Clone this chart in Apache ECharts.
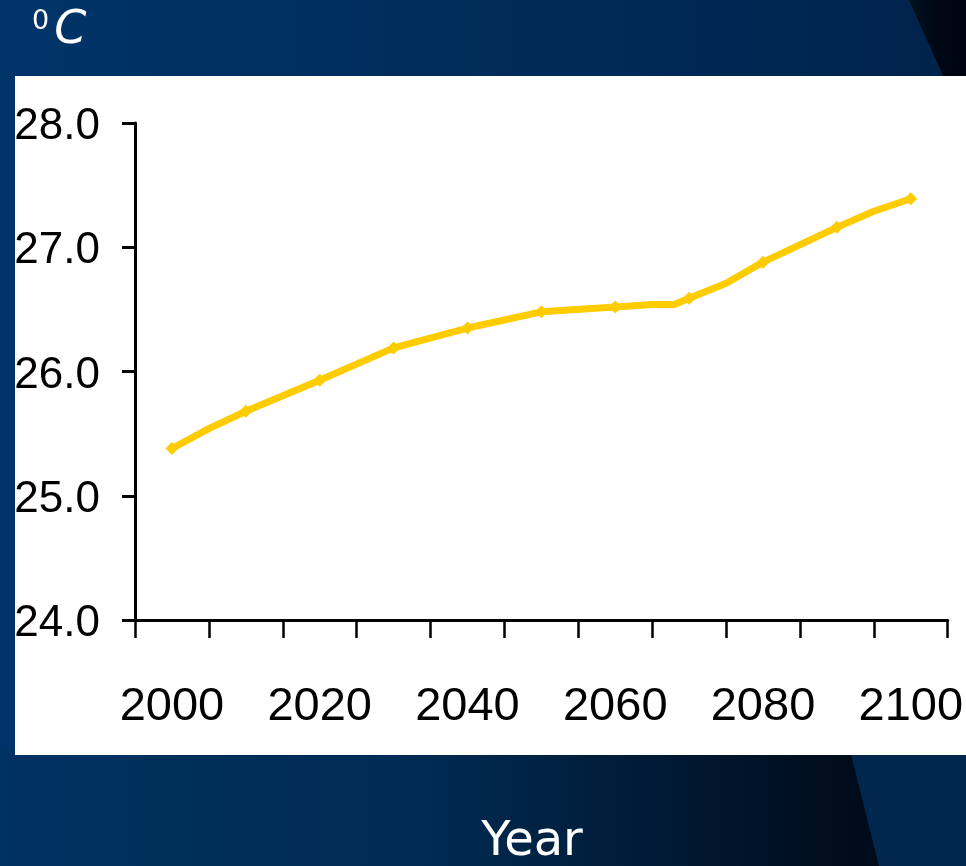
<!DOCTYPE html>
<html>
<head>
<meta charset="utf-8">
<title>Temperature projection</title>
<script src="https://cdn.jsdelivr.net/npm/echarts@6/dist/echarts.min.js"></script>
<style>
  html, body { margin: 0; padding: 0; background: #003366; }
  #chart { width: 966px; height: 866px; }
</style>
</head>
<body>
<div id="chart"></div>
<script>
// Projected mean temperature (°C) by year
const years = [2000, 2005, 2010, 2020, 2030, 2040, 2050, 2060, 2065, 2068, 2070, 2075, 2080, 2090, 2095, 2100];
const temps = [25.38, 25.54, 25.68, 25.93, 26.19, 26.35, 26.48, 26.52, 26.54, 26.54, 26.59, 26.71, 26.88, 27.16, 27.29, 27.39];

// Decade categories shown along the bottom axis
const decades = ['2000', '2010', '2020', '2030', '2040', '2050', '2060', '2070', '2080', '2090', '2100'];

// Temperature axis ticks
const tempTicks = [24, 25, 26, 27, 28];

const labelFont = "'Liberation Sans', Arial, sans-serif";
const titleFont = "'Comic Sans MS', 'DejaVu Sans', sans-serif";
const lineColor = '#FFCC00';

const chart = echarts.init(document.getElementById('chart'));

const seriesData = years.map((y, i) => ({
  value: [y, temps[i]],
  symbol: y % 10 === 0 ? 'diamond' : 'none'
}));

chart.setOption({
  backgroundColor: '#003366',
  animation: false,
  graphic: [
    // slide backdrop
    {
      type: 'rect', z: -100, silent: true,
      shape: { x: 0, y: 0, width: 966, height: 866 },
      style: {
        fill: new echarts.graphic.LinearGradient(0, 0, 1, 0, [
          { offset: 0, color: '#003468' },
          { offset: 0.9, color: '#00254f' },
          { offset: 1, color: '#002249' }
        ])
      }
    },
    {
      type: 'polygon', z: -99, silent: true,
      shape: { points: [[909, 0], [966, 0], [966, 80], [945, 80]] },
      style: {
        fill: new echarts.graphic.LinearGradient(0, 0, 1, 0, [
          { offset: 0, color: '#00121f' },
          { offset: 0.5, color: '#000714' },
          { offset: 1, color: '#000512' }
        ])
      }
    },
    {
      type: 'rect', z: -99, silent: true,
      shape: { x: 0, y: 750, width: 966, height: 116 },
      style: {
        fill: new echarts.graphic.LinearGradient(0, 0, 1, 0, [
          { offset: 0, color: '#003262' },
          { offset: 0.45, color: '#002a52' },
          { offset: 0.88, color: '#000c1b' },
          { offset: 1, color: '#000a18' }
        ])
      }
    },
    {
      type: 'polygon', z: -98, silent: true,
      shape: { points: [[850, 750], [966, 750], [966, 866], [879, 866]] },
      style: { fill: '#00284e' }
    },
    // chart panel
    {
      type: 'rect', z: -90, silent: true,
      shape: { x: 15, y: 76, width: 951, height: 679 },
      style: { fill: '#ffffff' }
    },
    // unit label
    {
      type: 'text', z: 10, left: 32, top: 8,
      style: {
        text: '{s|0}{c|C}',
        rich: {
          s: { fontFamily: titleFont, fontSize: 27, fill: '#ffffff', verticalAlign: 'top', padding: [0, 5, 20, 0] },
          c: { fontFamily: titleFont, fontSize: 46, fontStyle: 'italic', fill: '#ffffff' }
        }
      }
    },
    // axis title
    {
      type: 'text', z: 10, x: 532, y: 843,
      style: {
        text: 'Year',
        fontFamily: titleFont, fontSize: 48, fill: '#ffffff',
        align: 'center', verticalAlign: 'middle'
      }
    }
  ],
  grid: { left: 135, right: 17, top: 123, bottom: 246, containLabel: false },
  xAxis: [
    {
      type: 'category',
      data: decades,
      boundaryGap: true,
      position: 'bottom',
      axisLine: { show: true, lineStyle: { color: '#000', width: 3 } },
      axisTick: { show: true, interval: 0, length: 18, lineStyle: { color: '#000', width: 2.5 } },
      axisLabel: {
        interval: 1, margin: 64, color: '#000',
        fontFamily: labelFont, fontSize: 47
      },
      splitLine: { show: false }
    },
    {
      type: 'value',
      min: 1995, max: 2105,
      show: false,
      position: 'bottom'
    }
  ],
  yAxis: {
    type: 'value',
    min: tempTicks[0],
    max: tempTicks[tempTicks.length - 1],
    interval: 1,
    axisLine: { show: true, lineStyle: { color: '#000', width: 3 } },
    axisTick: { show: true, length: 13, lineStyle: { color: '#000', width: 3 } },
    axisLabel: {
      margin: 35, color: '#000',
      fontFamily: labelFont, fontSize: 44,
      formatter: v => '{t|' + v.toFixed(1) + '}',
      rich: {
        t: { fontFamily: labelFont, fontSize: 44, color: '#000', padding: [8, 0, 0, 0] }
      }
    },
    splitLine: { show: false }
  },
  series: [{
    type: 'line',
    xAxisIndex: 1,
    data: seriesData,
    symbolSize: 13,
    showAllSymbol: true,
    lineStyle: { color: lineColor, width: 7 },
    itemStyle: { color: lineColor },
    z: 5
  }]
});
</script>
</body>
</html>
